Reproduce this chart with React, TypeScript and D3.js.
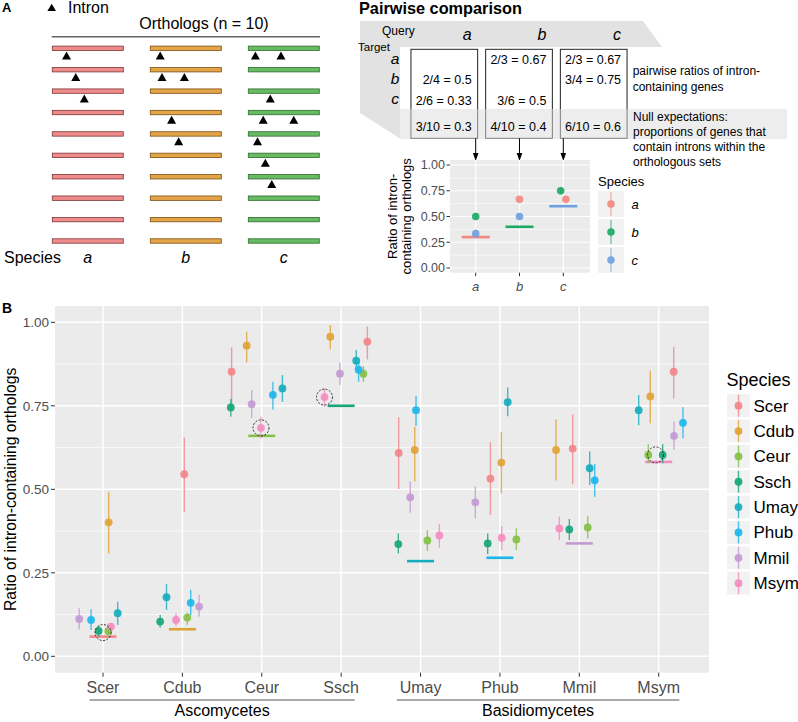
import React from "react";
import * as d3 from "d3";

const FONT = "'Liberation Sans', Arial, Helvetica, sans-serif";
const AXIS_GREY = "#4D4D4D";

// ---------- Panel A: schematic ----------
const schemSpecies = ["a", "b", "c"];
const schemFill = ["#EE8B8B", "#E4A448", "#66BB63"];
const schemStroke = ["#7D3434", "#7A4F12", "#2E6A2C"];
const geneRows = d3.range(10);
const intronPosA = [[0.2], [0.33], [0.45], [], [], [], [], [], [], []];
const intronPosB = [[0.14], [0.165, 0.48], [], [0.3], [0.4], [], [], [], [], []];
const intronPosC = [[0.1, 0.46], [], [0.31], [0.21, 0.64], [0.13], [0.24], [0.33], [], [], []];

// ---------- Panel A: pairwise comparison ----------
// [query][target]
const pairNum = [[null, 2, 2], [2, null, 3], [2, 3, null]];
const pairDen = [[null, 4, 6], [3, null, 6], [3, 4, null]];
const nullNum = [3, 4, 6];
const nullDen = [10, 10, 10];
const smallColors = ["#F3877F", "#1BAA62", "#6FA0E0"];
const smallDodge = [[0, 0, 0], [0, 0, 0], [0.06, -0.06, 0]];
const smallErr = [[0, 0.03, 0.04], [0, 0, 0.03], [0, 0.035, 0]];
const smallTicks = [0, 0.25, 0.5, 0.75, 1];
const smallMinor = [0.125, 0.375, 0.625, 0.875];

// ---------- Panel B ----------
const queries = ["Scer", "Cdub", "Ceur", "Ssch", "Umay", "Phub", "Mmil", "Msym"];
const speciesColors = ["#F2868A", "#E2A336", "#84C046", "#18A57A", "#17ADBE", "#1EB6EA", "#C49AD2", "#F48DC0"];
// rows: target species (legend order), columns: query (x category)
const ratioMatrix = [
  [null, 0.545, 0.852, 0.942, 0.609, 0.532, 0.622, 0.852],
  [0.401, null, 0.930, 0.957, 0.618, 0.580, 0.618, 0.778],
  [0.076, 0.116, null, 0.846, 0.347, 0.350, 0.386, 0.603],
  [0.076, 0.104, 0.745, null, 0.336, 0.338, 0.380, 0.603],
  [0.129, 0.177, 0.802, 0.885, null, 0.761, 0.563, 0.737],
  [0.109, 0.160, 0.783, 0.858, 0.737, null, 0.527, 0.699],
  [0.112, 0.149, 0.755, 0.846, 0.476, 0.461, null, 0.660],
  [0.089, 0.109, 0.684, 0.776, 0.362, 0.355, 0.383, null],
];
const lowMatrix = [
  [null, 0.433, 0.747, 0.889, 0.501, 0.423, 0.515, 0.772],
  [0.308, null, 0.879, 0.919, 0.523, 0.488, 0.526, 0.698],
  [0.059, 0.094, null, 0.822, 0.315, 0.318, 0.353, 0.578],
  [0.059, 0.086, 0.717, null, 0.308, 0.306, 0.348, 0.578],
  [0.094, 0.139, 0.762, 0.857, null, 0.719, 0.513, 0.692],
  [0.079, 0.124, 0.739, 0.822, 0.690, null, 0.478, 0.653],
  [0.081, 0.119, 0.714, 0.812, 0.430, 0.413, null, 0.618],
  [0.074, 0.091, 0.653, 0.747, 0.325, 0.318, 0.348, null],
];
const highMatrix = [
  [null, 0.655, 0.925, 0.987, 0.716, 0.641, 0.725, 0.927],
  [0.493, null, 0.972, 0.992, 0.687, 0.672, 0.710, 0.855],
  [0.093, 0.131, null, 0.869, 0.378, 0.383, 0.420, 0.635],
  [0.091, 0.124, 0.770, null, 0.368, 0.368, 0.411, 0.635],
  [0.163, 0.216, 0.842, 0.917, null, 0.805, 0.613, 0.782],
  [0.141, 0.199, 0.822, 0.882, 0.780, null, 0.576, 0.746],
  [0.144, 0.184, 0.797, 0.879, 0.523, 0.508, null, 0.702],
  [0.100, 0.129, 0.717, 0.802, 0.396, 0.390, 0.418, null],
];
// horizontal jitter of each point, in category-step units
const dodgeMatrix = [
  [null, 0.024, -0.38, 0.33, -0.275, -0.12, -0.083, 0.189],
  [0.072, null, -0.19, -0.137, -0.073, 0.018, -0.293, -0.106],
  [0.067, 0.062, null, 0.28, 0.086, 0.207, 0.106, -0.131],
  [-0.055, -0.28, -0.39, null, -0.28, -0.154, -0.126, 0.05],
  [0.185, -0.2, 0.26, 0.19, null, 0.098, 0.131, -0.252],
  [-0.15, 0.105, 0.14, 0.22, -0.057, null, 0.194, 0.306],
  [-0.3, 0.21, -0.127, -0.015, -0.13, -0.31, null, 0.193],
  [0.1, -0.08, -0.01, -0.21, 0.237, 0.023, -0.252, null],
];
const nullExpectation = [0.059, 0.081, 0.66, 0.75, 0.285, 0.295, 0.338, 0.582];
// highlighted (dashed circle) points: query, offset, value
const circleQuery = ["Scer", "Ceur", "Ssch", "Msym"];
const circleOffset = [0.0, -0.01, -0.21, -0.04];
const circleValue = [0.071, 0.684, 0.776, 0.603];
const yTicksB = [0, 0.25, 0.5, 0.75, 1];
const yMinorB = [0.125, 0.375, 0.625, 0.875];
const groupNames = ["Ascomycetes", "Basidiomycetes"];
const groupFirst = ["Scer", "Umay"];
const groupLast = ["Ssch", "Msym"];

const tri = (x: number, y0: number, y1: number, hw: number) =>
  `M${x},${y0}L${x + hw},${y1}L${x - hw},${y1}Z`;

function fmt(n: number, d: number) {
  return `${n}/${d} = ${+(n / d).toFixed(2)}`;
}

export default function App() {
  // ----- schematic scales
  const xSchem = d3.scalePoint<string>().domain(schemSpecies).range([87.8, 283.8]);
  const yRow = d3.scalePoint<number>().domain(geneRows).range([48.3, 241]);
  const barW = 71;
  const introns = [intronPosA, intronPosB, intronPosC];

  // ----- pairwise boxes
  const xBox = d3.scalePoint<string>().domain(schemSpecies).range([444.3, 593.7]);
  const boxW = 66.7;
  const yTextRow = d3.scalePoint<string>().domain(schemSpecies).range([64, 104.5]);
  const nullRowY = 130.5;

  // ----- small chart
  const sLeft = 450, sRight = 590, sTop = 160, sBottom = 272.7;
  const xs = d3.scalePoint<string>().domain(schemSpecies).range([475.7, 563.3]);
  const ys = d3.scaleLinear().domain([0, 1]).range([268, 165]);
  const sStep = xs.step();

  // ----- panel B
  const bLeft = 55, bRight = 709, bTop = 306, bBottom = 672.7;
  const xB = d3.scalePoint<string>().domain(queries).range([103, 658.7]);
  const yB = d3.scaleLinear().domain([0, 1]).range([656.3, 322.3]);
  const bStep = xB.step();

  type Pt = { sp: number; q: number; v: number; lo: number; hi: number; off: number };
  const pts: Pt[] = [];
  ratioMatrix.forEach((row, sp) =>
    row.forEach((v, q) => {
      if (v == null) return;
      pts.push({ sp, q, v, lo: lowMatrix[sp][q] as number, hi: highMatrix[sp][q] as number, off: dodgeMatrix[sp][q] as number });
    })
  );

  type SPt = { sp: number; q: number; v: number; e: number; off: number };
  const spts: SPt[] = [];
  pairNum.forEach((row, q) =>
    row.forEach((n, t) => {
      if (n == null) return;
      spts.push({ sp: t, q, v: n / (pairDen[q][t] as number), e: smallErr[q][t], off: smallDodge[q][t] });
    })
  );

  return (
    <div style={{ position: "absolute", left: 0, top: 0 }}>
      <svg width={798} height={722} style={{ display: "block", background: "#fff" }} fontFamily={FONT}>
        {/* ================= Panel A left ================= */}
        <text x={2} y={11.7} fontSize={13} fontWeight="bold">A</text>
        <path d={tri(51.7, 3.8, 11, 4.3)} fill="#000" />
        <text x={68} y={12.8} fontSize={16}>Intron</text>
        <text x={204} y={28.5} fontSize={16} textAnchor="middle">Orthologs (n = 10)</text>
        <line x1={51.7} x2={320} y1={36.7} y2={36.7} stroke="#666" strokeWidth={1.5} />
        {schemSpecies.map((s, si) => (
          <g key={s}>
            {geneRows.map((r) => (
              <rect key={r} x={(xSchem(s) as number) - barW / 2} y={(yRow(r) as number) - 2.2} width={barW} height={4.4}
                fill={schemFill[si]} stroke={schemStroke[si]} strokeWidth={0.8} />
            ))}
            {geneRows.map((r) =>
              introns[si][r].map((f, k) => (
                <path key={`${r}-${k}`} d={tri((xSchem(s) as number) - barW / 2 + f * barW, (yRow(r) as number) + 3.3, (yRow(r) as number) + 11.3, 4.5)} fill="#000" />
              ))
            )}
            <text x={xSchem(s)} y={262.5} fontSize={16} fontStyle="italic" textAnchor="middle">{s}</text>
          </g>
        ))}
        <text x={4} y={262.5} fontSize={16}>Species</text>

        {/* ================= Panel A right: pairwise ================= */}
        <text x={359} y={14} fontSize={16.3} fontWeight="bold">Pairwise comparison</text>
        <polygon points="360,21 643,21 662,47 400,47 400,138.5 360,113" fill="#E2E2E2" />
        <text x={382} y={35} fontSize={12}>Query</text>
        <text x={358} y={51} fontSize={11.5}>Target</text>
        {schemSpecies.map((s) => (
          <text key={s} x={395} y={(yTextRow(s) as number) - 0.5} fontSize={15.5} fontStyle="italic" textAnchor="middle">{s}</text>
        ))}
        {schemSpecies.map((s) => (
          <text key={s} x={(xBox(s) as number) + boxW / 2 - 6} y={40} fontSize={16} fontStyle="italic" textAnchor="end">{s}</text>
        ))}
        {schemSpecies.map((s) => (
          <rect key={s} x={(xBox(s) as number) - boxW / 2} y={49.3} width={boxW} height={89} fill="#fff" stroke="#222" strokeWidth={1} />
        ))}
        <rect x={400} y={109} width={387} height={30} fill="#DCDCDC" fillOpacity={0.5} />
        {schemSpecies.map((q, qi) => (
          <g key={q}>
            {schemSpecies.map((t, ti) =>
              pairNum[qi][ti] == null ? null : (
                <text key={t} x={(xBox(q) as number) + boxW / 2 - 6} y={yTextRow(t)} fontSize={12.5} textAnchor="end">
                  {fmt(pairNum[qi][ti] as number, pairDen[qi][ti] as number)}
                </text>
              )
            )}
            <text x={(xBox(q) as number) + boxW / 2 - 6} y={nullRowY} fontSize={12.5} textAnchor="end">{fmt(nullNum[qi], nullDen[qi])}</text>
          </g>
        ))}
        <text x={632.7} y={75} fontSize={12}>pairwise ratios of intron-</text>
        <text x={632.7} y={91} fontSize={12}>containing genes</text>
        <text x={633} y={121} fontSize={12}>Null expectations:</text>
        <text x={633} y={136} fontSize={12}>proportions of genes that</text>
        <text x={633} y={151} fontSize={12}>contain introns within the</text>
        <text x={633} y={166} fontSize={12}>orthologous sets</text>
        {schemSpecies.map((s) => (
          <g key={s}>
            <line x1={xs(s)} x2={xs(s)} y1={138.3} y2={154} stroke="#000" strokeWidth={1} />
            <path d={tri(xs(s) as number, 161, 153, 2.8)} fill="#000" />
          </g>
        ))}

        {/* small chart */}
        <rect x={sLeft} y={sTop} width={sRight - sLeft} height={sBottom - sTop} fill="#EBEBEB" />
        {smallMinor.map((t) => (
          <line key={t} x1={sLeft} x2={sRight} y1={ys(t)} y2={ys(t)} stroke="#fff" strokeWidth={0.6} />
        ))}
        {smallTicks.map((t) => (
          <line key={t} x1={sLeft} x2={sRight} y1={ys(t)} y2={ys(t)} stroke="#fff" strokeWidth={1.2} />
        ))}
        {schemSpecies.map((s) => (
          <line key={s} x1={xs(s)} x2={xs(s)} y1={sTop} y2={sBottom} stroke="#fff" strokeWidth={1.2} />
        ))}
        {schemSpecies.map((q, qi) => (
          <line key={q} x1={(xs(q) as number) - 0.32 * sStep} x2={(xs(q) as number) + 0.32 * sStep}
            y1={ys(nullNum[qi] / nullDen[qi])} y2={ys(nullNum[qi] / nullDen[qi])} stroke={smallColors[qi]} strokeWidth={2.6} />
        ))}
        {spts.map((p, i) => {
          const x = (xs(schemSpecies[p.q]) as number) + p.off * sStep;
          return (
            <g key={i}>
              {p.e > 0 && <line x1={x} x2={x} y1={ys(p.v - p.e)} y2={ys(p.v + p.e)} stroke={smallColors[p.sp]} strokeWidth={1.2} opacity={0.75} />}
              <circle cx={x} cy={ys(p.v)} r={3.8} fill={smallColors[p.sp]} opacity={0.9} />
            </g>
          );
        })}
        {smallTicks.map((t) => (
          <g key={t}>
            <line x1={sLeft - 3.5} x2={sLeft} y1={ys(t)} y2={ys(t)} stroke="#333" strokeWidth={1} />
            <text x={sLeft - 5} y={ys(t) + 4.3} fontSize={12.5} textAnchor="end" fill={AXIS_GREY}>{t.toFixed(2)}</text>
          </g>
        ))}
        {schemSpecies.map((s) => (
          <g key={s}>
            <line x1={xs(s)} x2={xs(s)} y1={sBottom} y2={sBottom + 3.5} stroke="#333" strokeWidth={1} />
            <text x={xs(s)} y={290.5} fontSize={13} fontStyle="italic" textAnchor="middle" fill={AXIS_GREY}>{s}</text>
          </g>
        ))}
        <text transform={`translate(396.5,${(sTop + sBottom) / 2}) rotate(-90)`} fontSize={13} textAnchor="middle">Ratio of intron-</text>
        <text transform={`translate(411,${(sTop + sBottom) / 2}) rotate(-90)`} fontSize={13} textAnchor="middle">containing orthologs</text>
        <text x={598} y={185.5} fontSize={13}>Species</text>
        {schemSpecies.map((s, i) => {
          const cy = 204 + i * 28;
          return (
            <g key={s}>
              <rect x={598} y={cy - 13} width={26} height={26} fill="#F2F2F2" />
              <line x1={611} x2={611} y1={cy - 12} y2={cy + 12} stroke={smallColors[i]} strokeWidth={1} opacity={0.8} />
              <circle cx={611} cy={cy} r={3.8} fill={smallColors[i]} opacity={0.9} />
              <text x={631.5} y={cy + 4.5} fontSize={13} fontStyle="italic">{s}</text>
            </g>
          );
        })}

        {/* ================= Panel B ================= */}
        <text x={2} y={312.5} fontSize={14} fontWeight="bold">B</text>
        <rect x={bLeft} y={bTop} width={bRight - bLeft} height={bBottom - bTop} fill="#EBEBEB" />
        {yMinorB.map((t) => (
          <line key={t} x1={bLeft} x2={bRight} y1={yB(t)} y2={yB(t)} stroke="#fff" strokeWidth={0.7} />
        ))}
        {yTicksB.map((t) => (
          <line key={t} x1={bLeft} x2={bRight} y1={yB(t)} y2={yB(t)} stroke="#fff" strokeWidth={1.5} />
        ))}
        {queries.map((q) => (
          <line key={q} x1={xB(q)} x2={xB(q)} y1={bTop} y2={bBottom} stroke="#fff" strokeWidth={1.5} />
        ))}
        {queries.map((q, qi) => (
          <line key={q} x1={(xB(q) as number) - 0.17 * bStep} x2={(xB(q) as number) + 0.17 * bStep}
            y1={yB(nullExpectation[qi])} y2={yB(nullExpectation[qi])} stroke={speciesColors[qi]} strokeWidth={2.6} />
        ))}
        {pts.map((p, i) => {
          const x = (xB(queries[p.q]) as number) + p.off * bStep;
          return (
            <line key={i} x1={x} x2={x} y1={yB(p.lo)} y2={yB(p.hi)} stroke={speciesColors[p.sp]} strokeWidth={1.4} opacity={0.8} />
          );
        })}
        {pts.map((p, i) => {
          const x = (xB(queries[p.q]) as number) + p.off * bStep;
          return <circle key={i} cx={x} cy={yB(p.v)} r={3.9} fill={speciesColors[p.sp]} opacity={0.92} />;
        })}
        {circleQuery.map((q, i) => (
          <circle key={i} cx={(xB(q) as number) + circleOffset[i] * bStep} cy={yB(circleValue[i])} r={8}
            fill="none" stroke="#222" strokeWidth={0.9} strokeDasharray="2,1.5" />
        ))}
        {yTicksB.map((t) => (
          <g key={t}>
            <line x1={bLeft - 4} x2={bLeft} y1={yB(t)} y2={yB(t)} stroke="#333" strokeWidth={1} />
            <text x={bLeft - 6} y={yB(t) + 4.8} fontSize={13.5} textAnchor="end" fill={AXIS_GREY}>{t.toFixed(2)}</text>
          </g>
        ))}
        {queries.map((q) => (
          <g key={q}>
            <line x1={xB(q)} x2={xB(q)} y1={bBottom} y2={bBottom + 4} stroke="#333" strokeWidth={1} />
            <text x={xB(q)} y={693} fontSize={16} textAnchor="middle" fill={AXIS_GREY}>{q}</text>
          </g>
        ))}
        {groupNames.map((g, gi) => {
          const padL = gi === 0 ? 0.17 : 0.3;
          const padR = gi === 0 ? 0.17 : 0.26;
          const x1 = (xB(groupFirst[gi]) as number) - padL * bStep;
          const x2 = (xB(groupLast[gi]) as number) + padR * bStep;
          return (
            <g key={g}>
              <line x1={x1} x2={x2} y1={700} y2={700} stroke="#555" strokeWidth={1} />
              <text x={(x1 + x2) / 2} y={716} fontSize={16} textAnchor="middle">{g}</text>
            </g>
          );
        })}
        <text transform={`translate(16,${(bTop + bBottom) / 2}) rotate(-90)`} fontSize={15.7} textAnchor="middle">
          Ratio of intron-containing orthologs
        </text>
        <text x={726.5} y={386} fontSize={18}>Species</text>
        {queries.map((s, i) => {
          const cy = 405.7 + i * 25.35;
          return (
            <g key={s}>
              <rect x={727} y={cy - 11.5} width={23} height={23} fill="#F2F2F2" />
              <line x1={738.5} x2={738.5} y1={cy - 11} y2={cy + 11} stroke={speciesColors[i]} strokeWidth={1.4} opacity={0.8} />
              <circle cx={738.5} cy={cy} r={3.9} fill={speciesColors[i]} opacity={0.92} />
              <text x={753.5} y={cy + 6} fontSize={17}>{s}</text>
            </g>
          );
        })}
      </svg>
    </div>
  );
}
